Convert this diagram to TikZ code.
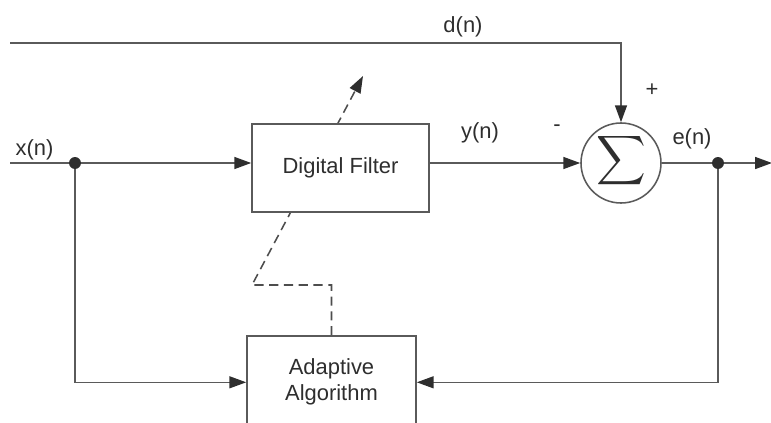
\documentclass[tikz,border=0pt]{standalone}
\usepackage{amsmath}
\usepackage{fontspec}
\setmainfont{Liberation Sans}
\usepackage{tikz}
\usetikzlibrary{arrows.meta}
\definecolor{wire}{HTML}{5A5A5A}
\definecolor{ink}{HTML}{2E2E2E}
\tikzset{blk/.style={draw=wire,line width=1.1pt,fill=white,inner sep=0pt,text=ink},
  sig/.style={draw=wire,line width=1.1pt},
  tip/.style={-{Triangle[length=12pt,width=8.5pt,color=ink]}},
  lbl/.style={text=ink,inner sep=0pt},
  dot/.style={circle,fill=ink,inner sep=0pt,minimum size=8.5pt}}

\begin{document}
\begin{tikzpicture}[x=0.025cm,y=-0.025cm,font=\fontsize{15.6}{18.5}\selectfont]
    \useasboundingbox (0,0) rectangle (771,422);
    \clip (0,0) rectangle (771,422);
    % blocks
    \node[blk,minimum width=120.2pt,minimum height=65.9pt,align=center] (alg) at (331.5,382.3) {Adaptive\\Algorithm};
    \coordinate (knee) at (252,285);
    \coordinate (adj) at (363,76);
    \draw[sig,draw=ink!85,dash pattern=on 6.5pt off 4pt,tip] (alg.north) |- (knee) -- (adj);
    \node[blk,minimum width=125.9pt,minimum height=62.6pt] (filt) at (340.5,168) {Digital Filter};
    \node[blk,circle,minimum size=56.9pt] (sum) at (621,163) {};
    \node[text=ink,inner sep=0pt,scale=1.7] (sig) at (621.5,160.5) {$\displaystyle\sum$};
    % wires
    \coordinate (xs) at (10,163);
    \coordinate (ds) at (10,43);
    \coordinate (out) at (772,163);
    \node[dot] (xd) at (75,163) {};
    \node[dot] (ed) at (718,163) {};
    \draw[sig] (xs) -- (xd);
    \draw[sig,tip] (xd) -- (xd -| filt.west);
    \draw[sig,tip] (xd) |- (alg.west);
    \draw[sig,tip] (filt.east |- sum.west) -- (sum.west);
    \draw[sig,tip] (ds) -| (sum.north);
    \draw[sig] (sum.east) -- (ed);
    \draw[sig,tip] (ed) -- (out);
    \draw[sig,tip] (ed) |- (alg.east);
    % labels
    \node[lbl] (xl) at (34.5,150) {x(n)};
    \node[lbl] (dl) at (463,26.5) {d(n)};
    \node[lbl] (yl) at (480,133) {y(n)};
    \node[lbl] (el) at (692,139) {e(n)};
    \node[lbl] (pl) at (652,90) {+};
    \node[lbl] (ml) at (557,128) {-};
\end{tikzpicture}
\end{document}
